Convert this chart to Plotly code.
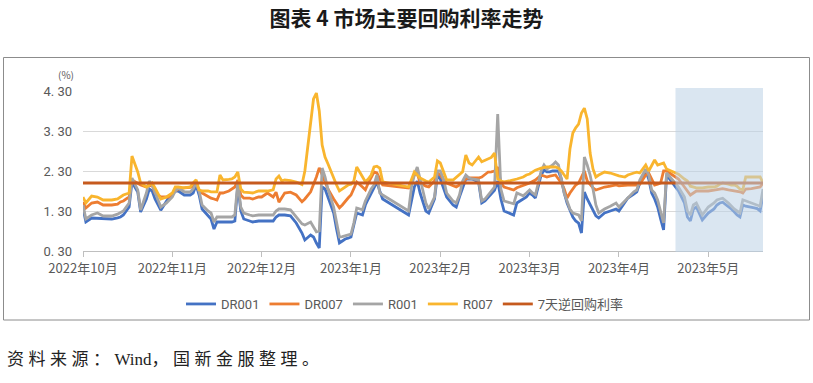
import calendar
from datetime import date
import plotly.graph_objects as go

# ---------------- data ----------------
TITLE = "图表 4 市场主要回购利率走势"
SOURCE_PARTS = ["资料来源：", "Wind", "，国新金服整理。"]
Y_UNIT = "(%)"
MONTH_LABELS = ["2022年10月", "2022年11月", "2022年12月", "2023年1月",
                "2023年2月", "2023年3月", "2023年4月", "2023年5月"]
Y_TICKS = [0.3, 1.3, 2.3, 3.3, 4.3]
Y_TICK_TEXT = ["0. 30", "1. 30", "2. 30", "3. 30", "4. 30"]
SERIES_NAMES = ["DR001", "DR007", "R001", "R007", "7天逆回购利率"]

DATES = [
    # 2022-10
    "2022-10-01", "2022-10-02", "2022-10-04", "2022-10-06", "2022-10-08", "2022-10-11", "2022-10-13",
    "2022-10-14", "2022-10-15", "2022-10-17", "2022-10-18", "2022-10-20", "2022-10-21", "2022-10-23",
    "2022-10-24", "2022-10-25", "2022-10-26", "2022-10-28", "2022-10-30", "2022-10-31",
    # 2022-11
    "2022-11-01", "2022-11-02", "2022-11-03", "2022-11-05", "2022-11-07", "2022-11-08", "2022-11-09",
    "2022-11-10", "2022-11-11", "2022-11-13", "2022-11-14", "2022-11-15", "2022-11-16", "2022-11-17",
    "2022-11-18", "2022-11-20", "2022-11-21", "2022-11-22", "2022-11-23", "2022-11-24", "2022-11-25",
    "2022-11-27", "2022-11-28", "2022-11-30",
    # 2022-12
    "2022-12-01", "2022-12-03", "2022-12-05", "2022-12-06", "2022-12-07", "2022-12-08", "2022-12-09",
    "2022-12-11", "2022-12-13", "2022-12-15", "2022-12-16", "2022-12-18", "2022-12-19", "2022-12-20",
    "2022-12-21", "2022-12-22", "2022-12-23", "2022-12-24", "2022-12-26", "2022-12-27", "2022-12-28",
    "2022-12-29", "2022-12-30", "2022-12-31",
    # 2023-01
    "2023-01-01", "2023-01-02", "2023-01-03", "2023-01-05", "2023-01-06", "2023-01-07", "2023-01-08",
    "2023-01-09", "2023-01-10", "2023-01-11", "2023-01-12", "2023-01-21", "2023-01-22", "2023-01-23",
    "2023-01-24", "2023-01-25", "2023-01-27", "2023-01-28", "2023-01-30", "2023-01-31",
    # 2023-02
    "2023-02-01", "2023-02-02", "2023-02-03", "2023-02-05", "2023-02-06", "2023-02-07", "2023-02-08",
    "2023-02-09", "2023-02-10", "2023-02-11", "2023-02-13", "2023-02-14", "2023-02-15", "2023-02-16",
    "2023-02-17", "2023-02-18", "2023-02-19", "2023-02-20", "2023-02-21", "2023-02-23", "2023-02-24",
    "2023-02-25", "2023-02-27", "2023-02-28",
    # 2023-03
    "2023-03-01", "2023-03-02", "2023-03-03", "2023-03-05", "2023-03-06", "2023-03-07", "2023-03-08",
    "2023-03-09", "2023-03-10", "2023-03-11", "2023-03-12", "2023-03-13", "2023-03-14", "2023-03-15",
    "2023-03-16", "2023-03-17", "2023-03-18", "2023-03-19", "2023-03-20", "2023-03-21", "2023-03-22",
    "2023-03-23", "2023-03-24", "2023-03-25", "2023-03-27", "2023-03-29", "2023-03-31",
    # 2023-04
    "2023-04-01", "2023-04-03", "2023-04-04", "2023-04-06", "2023-04-07", "2023-04-08", "2023-04-10",
    "2023-04-11", "2023-04-12", "2023-04-13", "2023-04-14", "2023-04-15", "2023-04-16", "2023-04-17",
    "2023-04-18", "2023-04-19", "2023-04-21", "2023-04-23", "2023-04-24", "2023-04-25", "2023-04-26",
    "2023-04-27", "2023-04-29",
    # 2023-05
    "2023-05-01", "2023-05-03", "2023-05-04", "2023-05-05", "2023-05-06", "2023-05-08", "2023-05-09",
    "2023-05-10", "2023-05-11", "2023-05-12", "2023-05-13", "2023-05-14", "2023-05-16", "2023-05-17",
    "2023-05-18", "2023-05-19", "2023-05-20",
]

DR001 = [
    1.375, 1.025, 1.125, 1.12, 1.1, 1.1, 1.13, 1.15, 1.2, 1.4, 2.025, 1.775, 1.275, 1.6, 1.85, 1.8, 1.6, 1.32, 1.55, 1.65,
    1.7, 1.8, 1.8, 1.7, 1.7, 1.75, 1.95, 1.7, 1.35, 1.2, 1.1, 0.85, 1.025, 1.025, 1.025, 1.025, 1.025, 1.05, 1.95, 1.3, 1.1, 1.05, 1.025, 1.05,
    1.05, 1.05, 1.05, 1.15, 1.2, 1.2, 1.2, 1.18, 1.0, 0.75, 0.575, 0.7, 0.65, 0.5, 0.375, 1.9, 1.85, 1.65, 1.25, 0.85, 0.5, 0.55, 0.6, 0.62,
    0.65, 0.95, 1.25, 1.2, 1.45, 1.6, 1.75, 1.9, 2.025, 1.8, 1.6, 1.2, 1.6, 1.9, 2.05, 1.75, 1.3, 1.25, 1.6, 2.2,
    2.1, 1.85, 1.65, 1.45, 1.4, 1.65, 1.9, 2.1, 2.1, 2.1, 2.025, 1.5, 1.55, 1.65, 1.75, 1.82, 2.05, 1.6, 1.3, 1.22, 1.2, 1.5, 1.6, 1.65,
    1.75, 1.7, 1.625, 2.2, 2.325, 2.28, 2.28, 2.3, 2.3, 2.3, 2.1, 1.75, 1.5, 1.3, 1.15, 1.05, 1.0, 0.75, 1.775, 1.6, 1.45, 1.3, 1.18, 1.125, 1.25, 1.3, 1.35,
    1.3, 1.5, 1.625, 1.72, 1.775, 2.0, 2.3, 2.1, 1.75, 1.6, 1.4, 1.1, 0.825, 2.2, 2.1, 2.0, 1.8, 1.5, 1.15, 1.05, 1.35, 1.4, 1.075,
    1.25, 1.35, 1.45, 1.5, 1.52, 1.42, 1.35, 1.28, 1.2, 1.15, 1.45, 1.42, 1.4, 1.38, 1.36, 1.3, 1.7,
]

DR007 = [
    1.525, 1.375, 1.5, 1.525, 1.45, 1.45, 1.47, 1.525, 1.55, 1.65, 2.075, 2.0, 1.95, 1.9, 1.92, 1.95, 1.75, 1.65, 1.65, 1.65,
    1.72, 1.8, 1.85, 1.88, 1.89, 1.9, 2.0, 1.8, 1.75, 1.66, 1.62, 1.6, 1.575, 1.75, 1.75, 1.8, 1.85, 1.9, 2.075, 1.7, 1.62, 1.62, 1.6, 1.65,
    1.65, 1.75, 1.65, 1.77, 1.52, 1.65, 1.75, 1.77, 1.7, 1.53, 1.6, 1.78, 1.95, 2.15, 2.38, 2.2, 2.0, 1.85, 1.6, 1.5, 1.38, 1.45, 1.55, 1.625,
    1.7, 1.85, 2.025, 1.9, 1.83, 2.0, 2.15, 2.275, 2.25, 2.1, 1.95, 1.875, 2.05, 2.2, 2.25, 2.0, 1.92, 1.9, 2.05, 2.25,
    2.2, 2.08, 2.0, 1.92, 1.9, 1.95, 2.0, 2.1, 2.125, 2.125, 2.125, 2.15, 2.22, 2.275, 2.28, 2.3, 2.4, 2.0, 1.9, 1.85, 1.825, 1.88, 1.93, 1.97,
    2.0, 2.03, 2.075, 2.2, 2.18, 2.15, 2.17, 2.19, 2.2, 2.1, 2.0, 1.85, 1.625, 1.75, 1.85, 1.95, 2.0, 2.15, 2.3, 2.05, 1.95, 1.88, 1.825, 1.85, 1.9, 1.92, 1.95,
    1.93, 1.95, 1.95, 1.95, 1.95, 1.97, 2.2, 2.25, 2.1, 1.95, 1.97, 2.0, 2.3, 2.3, 2.25, 2.2, 2.1, 1.9, 1.8, 1.7, 1.75, 1.8, 1.8,
    1.8, 1.82, 1.83, 1.85, 1.86, 1.83, 1.82, 1.8, 1.8, 1.78, 1.75, 1.85, 1.86, 1.87, 1.88, 1.9, 2.0,
]

R001 = [
    1.45, 1.1, 1.2, 1.25, 1.175, 1.175, 1.22, 1.25, 1.3, 1.5, 2.125, 1.825, 1.325, 1.75, 2.05, 1.95, 1.75, 1.4, 1.5, 1.575,
    1.65, 1.8, 1.875, 1.78, 1.775, 1.85, 2.0, 1.8, 1.45, 1.3, 1.25, 1.025, 1.15, 1.15, 1.15, 1.15, 1.15, 1.2, 2.025, 1.4, 1.25, 1.2, 1.18, 1.2,
    1.2, 1.2, 1.2, 1.3, 1.35, 1.35, 1.35, 1.33, 1.15, 0.98, 0.95, 1.025, 0.9, 0.78, 0.8, 2.375, 2.15, 1.85, 1.39, 1.03, 0.65, 0.66, 0.68, 0.7,
    0.72, 1.0, 1.375, 1.33, 1.55, 1.7, 1.85, 1.95, 2.2, 1.75, 1.7, 1.3, 1.9, 2.2, 2.4, 2.1, 1.5, 1.35, 1.65, 2.3,
    2.3, 2.1, 1.75, 1.55, 1.5, 1.7, 2.05, 2.2, 2.125, 2.1, 2.075, 1.55, 1.6, 1.7, 1.8, 1.9, 3.725, 1.85, 1.55, 1.5, 1.48, 1.75, 1.68, 1.75,
    1.825, 1.75, 1.7, 2.3, 2.45, 2.35, 2.4, 2.45, 2.525, 2.45, 2.1, 1.75, 1.55, 1.35, 1.25, 1.22, 1.2, 1.05, 2.65, 2.45, 2.2, 1.85, 1.45, 1.25, 1.35, 1.42, 1.5,
    1.4, 1.55, 1.65, 1.78, 1.825, 2.075, 2.35, 2.2, 1.825, 1.75, 1.575, 1.25, 1.0, 2.25, 2.15, 2.075, 1.9, 1.65, 1.3, 1.2, 1.45, 1.5, 1.2,
    1.4, 1.5, 1.575, 1.6, 1.62, 1.5, 1.42, 1.35, 1.3, 1.25, 1.58, 1.55, 1.5, 1.48, 1.45, 1.42, 1.85,
]

R007 = [
    1.65, 1.5, 1.675, 1.65, 1.575, 1.575, 1.6, 1.65, 1.7, 1.75, 2.675, 2.275, 2.0, 1.9, 1.95, 2.0, 1.875, 1.6, 1.65, 1.7,
    1.75, 1.9, 1.9, 1.88, 1.9, 2.0, 2.08, 1.83, 1.8, 1.8, 1.78, 1.78, 1.78, 2.2, 2.075, 2.09, 2.1, 2.15, 2.275, 1.85, 1.77, 1.76, 1.75, 1.8,
    1.8, 1.8, 1.83, 2.1, 2.175, 2.05, 2.075, 2.06, 2.025, 1.96, 2.3, 3.45, 4.1, 4.25, 3.8, 2.95, 2.65, 2.48, 2.1, 1.95, 1.8, 1.85, 1.9, 1.95,
    1.97, 2.05, 2.4, 2.15, 2.03, 2.1, 2.2, 2.4, 2.42, 2.375, 2.03, 1.9, 2.1, 2.275, 2.2, 2.125, 2.05, 2.025, 2.15, 2.55,
    2.5, 2.3, 2.075, 2.075, 2.15, 2.22, 2.28, 2.7, 2.5, 2.45, 2.65, 2.53, 2.56, 2.6, 2.64, 2.75, 2.1, 2.05, 2.03, 2.06, 2.09, 2.1, 2.15, 2.2,
    2.225, 2.27, 2.32, 2.37, 2.39, 2.4, 2.4, 2.4, 2.4, 2.37, 2.3, 2.2, 2.1, 2.85, 3.25, 3.38, 3.47, 3.75, 3.87, 3.6, 2.75, 2.35, 2.15, 2.2, 2.275, 2.25, 2.2,
    2.18, 2.15, 2.2, 2.25, 2.27, 2.25, 2.45, 2.3, 2.45, 2.575, 2.45, 2.48, 2.5, 2.35, 2.32, 2.3, 2.22, 2.1, 2.05, 1.92, 1.9, 1.88, 1.88,
    1.9, 1.9, 1.92, 1.97, 2.0, 1.97, 1.95, 1.95, 1.92, 1.85, 1.83, 2.15, 2.15, 2.15, 2.15, 2.15, 2.0,
]

REVERSE_REPO_7D = [2.0] * len(DATES)

SHADE_START = "2023-04-20"
FIRST_MONTH = (2022, 10)

COLORS = ["#4472C4", "#ED7D31", "#A5A5A5", "#F9B52E", "#C65A1E"]


# ---------------- month scale (each calendar month gets equal width) ----------------
def month_pos(s):
    d = date.fromisoformat(s)
    idx = (d.year - FIRST_MONTH[0]) * 12 + (d.month - FIRST_MONTH[1])
    ndays = calendar.monthrange(d.year, d.month)[1]
    return idx + (d.day - 1) / ndays


X = [month_pos(s) for s in DATES]

W, H = 813, 383
ML, MR, MT, MB = 83, 50, 91, 132
PW, PH = W - ML - MR, H - MT - MB


def px_x(p):
    return (p - ML) / PW


def px_y(p):
    return (H - MB - p) / PH


fig = go.Figure()
for name, vals, col in zip(SERIES_NAMES, [DR001, DR007, R001, R007, REVERSE_REPO_7D], COLORS):
    fig.add_trace(go.Scatter(
        x=X, y=vals, name=name, mode="lines",
        line=dict(color=col, width=2.8),
        hoverinfo="skip",
    ))

fig.update_layout(
    width=W, height=H, autosize=False,
    margin=dict(l=ML, r=MR, t=MT, b=MB, pad=0),
    paper_bgcolor="white", plot_bgcolor="white",
    title=dict(
        text="<b>" + TITLE + "</b>", x=0.5, xanchor="center", xref="container",
        y=1 - 19 / H, yanchor="middle", yref="container",
        font=dict(family="Noto Sans CJK SC", size=21, color="#1a1a1a"),
    ),
    showlegend=True,
    legend=dict(
        orientation="h", x=px_x(405), xanchor="center", y=px_y(304), yanchor="middle",
        font=dict(family="Roboto, Noto Sans CJK SC", size=13, color="#595959"),
        bgcolor="rgba(0,0,0,0)", traceorder="normal",
    ),
    xaxis=dict(
        range=[0, X[-1]], tickmode="array", tickvals=list(range(len(MONTH_LABELS))),
        ticktext=MONTH_LABELS, ticks="outside", ticklen=5, tickcolor="#BFBFBF",
        showline=True, linecolor="#BFBFBF", linewidth=1, showgrid=False, zeroline=False,
        tickfont=dict(family="Noto Sans CJK SC", size=13, color="#595959"),
        fixedrange=True,
    ),
    yaxis=dict(
        range=[Y_TICKS[0], Y_TICKS[-1]], tickmode="array", tickvals=Y_TICKS, ticktext=Y_TICK_TEXT,
        showgrid=True, gridcolor="#D9D9D9", gridwidth=1, zeroline=False, showline=False,
        ticks="", ticklabelstandoff=10,
        tickfont=dict(family="Roboto", size=13, color="#595959"),
        fixedrange=True,
    ),
    shapes=[
        # highlighted period
        dict(type="rect", xref="x", yref="paper", x0=month_pos(SHADE_START), x1=X[-1],
             y0=px_y(252), y1=px_y(88), fillcolor="rgba(188,210,230,0.55)",
             line=dict(width=0), layer="above"),
        # chart frame
        dict(type="rect", xref="paper", yref="paper", x0=px_x(3.5), x1=px_x(809.5),
             y0=px_y(320), y1=px_y(57.5), line=dict(color="#8C8C8C", width=1),
             fillcolor="rgba(0,0,0,0)", layer="below"),
    ],
    annotations=[
        dict(text=Y_UNIT, xref="paper", yref="paper", x=px_x(66), y=px_y(75),
             xanchor="center", yanchor="middle", showarrow=False,
             font=dict(family="Noto Sans CJK SC", size=10, color="#595959")),
        dict(text='<span style="letter-spacing:4.5px">' + SOURCE_PARTS[0] + '</span>' + SOURCE_PARTS[1]
                  + '<span style="letter-spacing:4.5px">' + SOURCE_PARTS[2] + '</span>',
             xref="paper", yref="paper", x=px_x(5), y=px_y(359),
             xanchor="left", yanchor="middle", showarrow=False,
             font=dict(family="Liberation Serif, Noto Sans CJK SC", size=17, color="#222222")),
    ],
)

fig.write_html("out.html", config={"displayModeBar": False},
               post_script="document.body.style.margin='0';")
